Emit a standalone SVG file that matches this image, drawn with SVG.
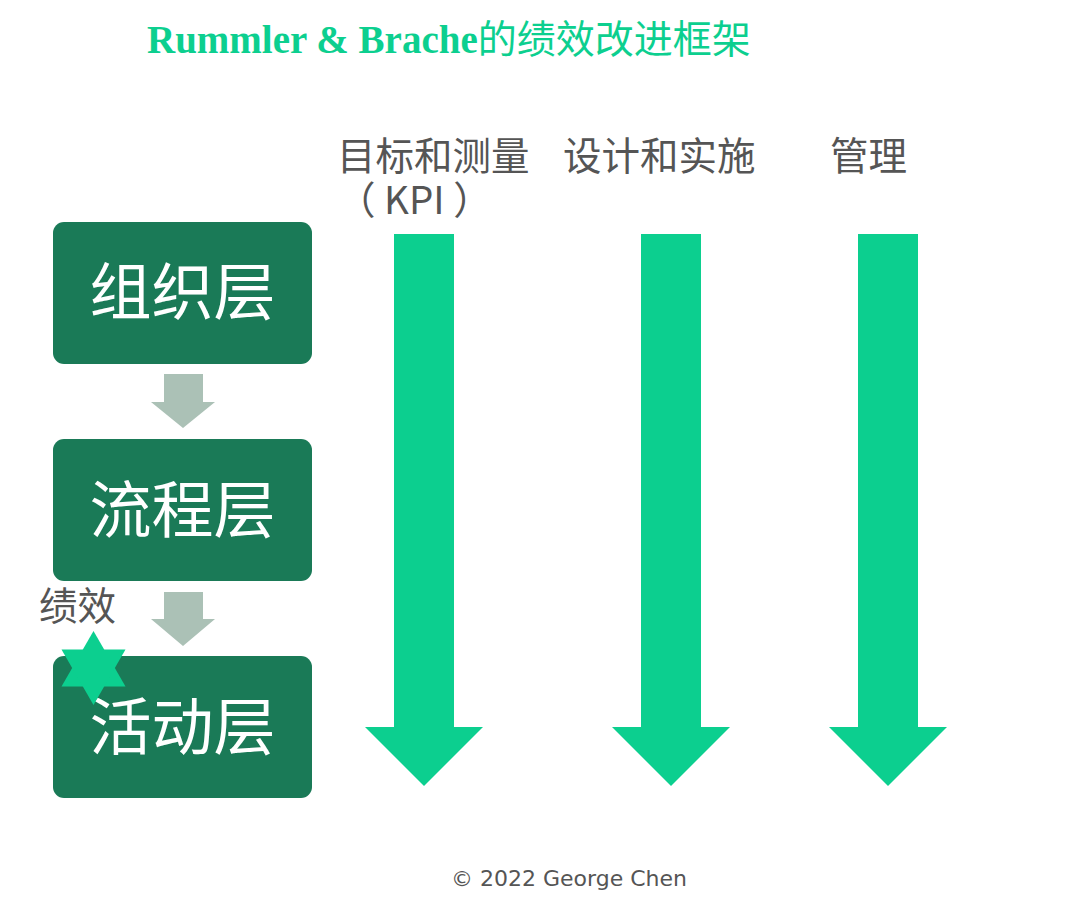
<svg xmlns="http://www.w3.org/2000/svg" width="1080" height="908" viewBox="0 0 1080 908">
<style>
.box{fill:#1a7a57}
.boxtxt{font-family:"Noto Sans CJK SC","Noto Sans",sans-serif;font-size:62px;fill:#ffffff;text-anchor:middle}
.hdr{font-family:"Noto Sans CJK SC","Noto Sans",sans-serif;font-size:38.5px;fill:#555555}
.garrow{fill:#0ccf8f}
.sarrow{fill:#abc1b6}
</style>
<rect width="1080" height="908" fill="#ffffff"/>
<text x="147" y="53" font-family="'Liberation Serif','Times New Roman',serif" font-weight="bold" font-size="39" fill="#0ccf8f">Rummler &amp; Brache<tspan font-family="'Noto Sans CJK SC',sans-serif" font-weight="normal">的绩效改进框架</tspan></text>

<g id="hdr-goal"><text class="hdr" x="337" y="170">目标和测量</text><text class="hdr" x="337" y="214">（ KPI ）</text></g>
<g id="hdr-design"><text class="hdr" x="563" y="170">设计和实施</text></g>
<g id="hdr-manage"><text class="hdr" x="830" y="170">管理</text></g>

<g id="node-org"><rect class="box" x="53" y="222" width="259" height="142" rx="11"/><text class="boxtxt" x="182.5" y="315">组织层</text></g>
<g id="node-process"><rect class="box" x="53" y="439" width="259" height="142" rx="11"/><text class="boxtxt" x="182.5" y="533">流程层</text></g>
<g id="node-activity"><rect class="box" x="53" y="656" width="259" height="142" rx="11"/><text class="boxtxt" x="182.5" y="750">活动层</text></g>

<g id="connectors">
<polygon class="sarrow" points="164,374 203,374 203,402 215,402 183,428 151,402 164,402"/>
<polygon class="sarrow" points="164,592 203,592 203,619 215,619 183,646 151,619 164,619"/>
<polygon class="garrow" points="394,234 454,234 454,727 483,727 424,786 365,727 394,727"/>
<polygon class="garrow" points="641,234 701,234 701,727 730,727 671,786 612,727 641,727"/>
<polygon class="garrow" points="858,234 918,234 918,727 947,727 888,786 829,727 858,727"/>
</g>

<g id="perf-label"><text x="39" y="620" font-family="'Noto Sans CJK SC','Noto Sans',sans-serif" font-size="38.5" fill="#555555">绩效</text></g>
<g id="star">
<polygon fill="#0ccf8f" points="93.5,631 125.5,686.5 61.5,686.5"/>
<polygon fill="#0ccf8f" points="93.5,705 125.5,649.5 61.5,649.5"/>
</g>

<text x="451" y="886" font-family="'DejaVu Sans',sans-serif" font-size="22" fill="#555555">© 2022 George Chen</text>
</svg>
